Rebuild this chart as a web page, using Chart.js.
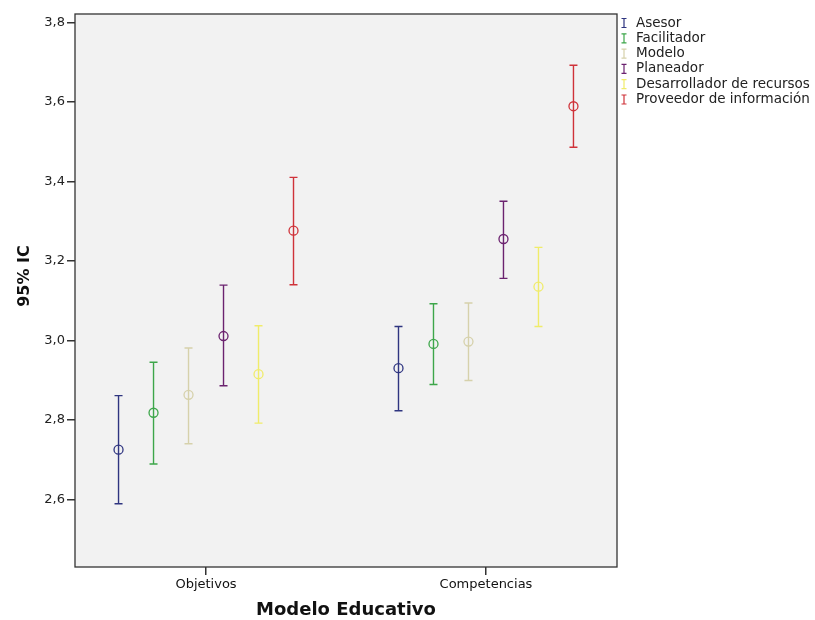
<!DOCTYPE html>
<html>
<head>
<meta charset="utf-8">
<script src="https://cdn.jsdelivr.net/npm/chart.js@4.4.1/dist/chart.umd.min.js"></script>
<style>
  html, body { margin: 0; padding: 0; background: #fff; }
</style>
</head>
<body>
<canvas id="ciChart" width="815" height="620"></canvas>
<script>
const categories = ['Objetivos', 'Competencias'];
const seriesNames = ['Asesor', 'Facilitador', 'Modelo', 'Planeador', 'Desarrollador de recursos', 'Proveedor de información'];
const seriesColors = ['#2f3580', '#3da64a', '#d6d1ab', '#6b226f', '#f0ec6a', '#cf3239'];

// media y límites del IC 95% por serie: [Objetivos, Competencias]
const means = [[2.725, 2.930], [2.818, 2.991], [2.863, 2.997], [3.011, 3.255], [2.915, 3.135], [3.276, 3.589]];
const lower = [[2.589, 2.823], [2.689, 2.889], [2.740, 2.899], [2.886, 3.156], [2.792, 3.035], [3.140, 3.486]];
const upper = [[2.861, 3.035], [2.945, 3.092], [2.981, 3.094], [3.139, 3.350], [3.037, 3.234], [3.410, 3.692]];

const yTicks = [2.6, 2.8, 3.0, 3.2, 3.4, 3.6, 3.8];
const yTitle = '95% IC';

const groupStep = 0.125; // separación entre series dentro de cada categoría

const datasets = seriesNames.map((name, j) => ({
    label: name,
    data: categories.map((c, i) => ({
        x: i + (j - (seriesNames.length - 1) / 2) * groupStep,
        y: means[j][i],
        lo: lower[j][i],
        hi: upper[j][i]
    })),
    borderColor: seriesColors[j],
    backgroundColor: 'rgba(0,0,0,0)',
    pointRadius: 4.5,
    pointHoverRadius: 4.5,
    pointBorderWidth: 1.3,
    showLine: false
}));

// fondo gris y marco del área de trazado
const plotFrame = {
    id: 'plotFrame',
    beforeDraw(chart) {
        const { ctx, chartArea: a } = chart;
        ctx.save();
        ctx.fillStyle = '#f2f2f2';
        ctx.fillRect(a.left, a.top, a.right - a.left, a.bottom - a.top);
        ctx.restore();
    },
    afterDraw(chart) {
        const { ctx, chartArea: a } = chart;
        ctx.save();
        ctx.strokeStyle = '#333';
        ctx.lineWidth = 1.3;
        ctx.strokeRect(a.left, a.top, a.right - a.left, a.bottom - a.top);

        // título del eje Y (un poco por encima del centro, como en SPSS)
        ctx.translate(25, 276);
        ctx.rotate(-Math.PI / 2);
        ctx.font = 'bold 16px "DejaVu Sans", sans-serif';
        ctx.fillStyle = '#111';
        ctx.textAlign = 'center';
        ctx.textBaseline = 'middle';
        ctx.fillText(yTitle, 0, 0);
        ctx.restore();
    }
};

// barras de error (IC 95%)
const errorBars = {
    id: 'errorBars',
    beforeDatasetsDraw(chart) {
        const { ctx, scales: { x, y } } = chart;
        ctx.save();
        chart.data.datasets.forEach((ds) => {
            ctx.strokeStyle = ds.borderColor;
            ctx.lineWidth = 1.4;
            ds.data.forEach((p) => {
                const px = x.getPixelForValue(p.x);
                const top = y.getPixelForValue(p.hi);
                const bot = y.getPixelForValue(p.lo);
                ctx.beginPath();
                ctx.moveTo(px, top);
                ctx.lineTo(px, bot);
                ctx.moveTo(px - 4, top);
                ctx.lineTo(px + 4, top);
                ctx.moveTo(px - 4, bot);
                ctx.lineTo(px + 4, bot);
                ctx.stroke();
            });
        });
        ctx.restore();
    }
};

// leyenda con símbolo "I"
const ciLegend = {
    id: 'ciLegend',
    afterDraw(chart) {
        const { ctx, chartArea: a } = chart;
        ctx.save();
        ctx.font = '13.5px "DejaVu Sans", sans-serif';
        ctx.textBaseline = 'middle';
        ctx.textAlign = 'left';
        seriesNames.forEach((name, j) => {
            const yy = 23 + j * 15.3;
            const mx = a.right + 7;
            ctx.strokeStyle = seriesColors[j];
            ctx.lineWidth = 1.2;
            ctx.beginPath();
            ctx.moveTo(mx, yy - 4.5);
            ctx.lineTo(mx, yy + 4.5);
            ctx.moveTo(mx - 2.5, yy - 4.5);
            ctx.lineTo(mx + 2.5, yy - 4.5);
            ctx.moveTo(mx - 2.5, yy + 4.5);
            ctx.lineTo(mx + 2.5, yy + 4.5);
            ctx.stroke();
            ctx.fillStyle = '#222';
            ctx.fillText(name, a.right + 19, yy);
        });
        ctx.restore();
    }
};

const ctx = document.getElementById('ciChart').getContext('2d');

const ciChart = new Chart(ctx, {
    type: 'scatter',
    data: { datasets: datasets },
    options: {
        responsive: false,
        animation: false,
        layout: { padding: { top: 14, right: 198, left: 0, bottom: 0 } },
        plugins: {
            legend: { display: false },
            tooltip: { enabled: false }
        },
        scales: {
            x: {
                type: 'linear',
                min: -0.468,
                max: 1.468,
                afterBuildTicks: (scale) => {
                    scale.ticks = categories.map((c, i) => ({ value: i }));
                },
                afterFit: (scale) => { scale.height = 53; },
                grid: { drawOnChartArea: false, drawTicks: true, tickLength: 8, color: '#333', lineWidth: 1.5 },
                border: { display: false },
                ticks: {
                    padding: 2,
                    color: '#111',
                    font: { family: 'DejaVu Sans', size: 13 },
                    callback: (v) => categories[v]
                },
                title: {
                    display: true,
                    text: 'Modelo Educativo',
                    color: '#111',
                    font: { family: 'DejaVu Sans', size: 18, weight: 'bold' },
                    padding: { top: 0, bottom: -1 }
                }
            },
            y: {
                min: 2.43,
                max: 3.821,
                afterBuildTicks: (scale) => {
                    scale.ticks = yTicks.map((v) => ({ value: v }));
                },
                afterFit: (scale) => { scale.width = 75; },
                grid: { drawOnChartArea: false, drawTicks: true, tickLength: 8, color: '#333', lineWidth: 1.5 },
                border: { display: false },
                ticks: {
                    padding: 2,
                    color: '#222',
                    font: { family: 'DejaVu Sans', size: 13 },
                    callback: (v) => v.toFixed(1).replace('.', ',')
                }
            }
        }
    },
    plugins: [plotFrame, errorBars, ciLegend]
});
</script>
</body>
</html>
